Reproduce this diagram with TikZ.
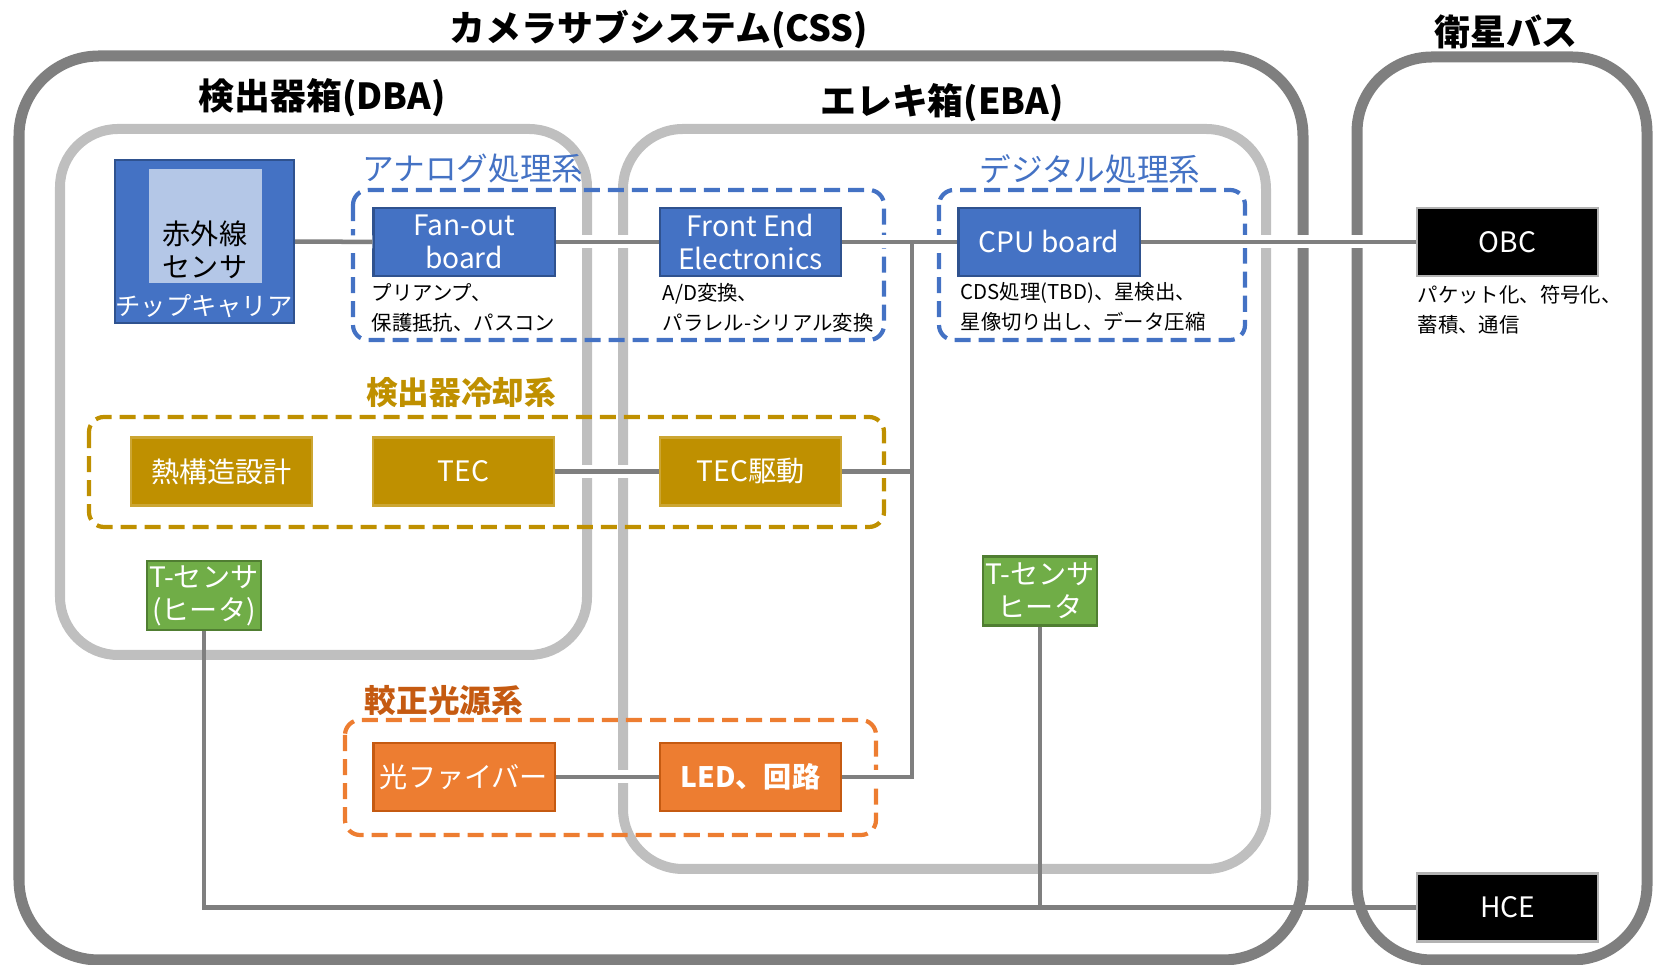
\documentclass[tikz,border=0pt]{standalone}
\usepackage{fontspec}
\setmainfont{Noto Sans CJK JP}
\definecolor{wiregray}{HTML}{7F7F7F}
\definecolor{lightframe}{HTML}{BFBFBF}
\definecolor{boxblue}{HTML}{4472C4}
\definecolor{edgeblue}{HTML}{2F528F}
\definecolor{chipblue}{HTML}{B4C7E7}
\definecolor{boxgold}{HTML}{BF9000}
\definecolor{boxorange}{HTML}{ED7D31}
\definecolor{edgeorange}{HTML}{C55A11}
\definecolor{boxgreen}{HTML}{70AD47}
\definecolor{edgegreen}{HTML}{507E32}
\begin{document}
\begin{tikzpicture}[x=0.01cm,y=-0.01cm]
        \tikzstyle{frame}=[draw=wiregray,line width=0.11cm]
        \tikzstyle{subframe}=[draw=lightframe,line width=0.1cm]
        \tikzstyle{group}=[line width=0.042cm,dash pattern=on 0.16cm off 0.08cm,rounded corners=0.15cm]
        \tikzstyle{title}=[font=\fontsize{10.2}{12}\selectfont\bfseries,inner sep=0pt]
        \tikzstyle{grouplabel}=[font=\fontsize{9}{11}\selectfont,inner sep=0pt]
        \tikzstyle{unit}=[rectangle,minimum width=1.81cm,minimum height=0.68cm,inner sep=1pt,align=center,text=white,font=\fontsize{8}{9.4}\selectfont,line width=0.6pt]
        \tikzstyle{blueunit}=[unit,fill=boxblue,draw=edgeblue]
        \tikzstyle{goldunit}=[unit,fill=boxgold,draw=boxgold!80!white]
        \tikzstyle{orangeunit}=[unit,fill=boxorange,draw=edgeorange]
        \tikzstyle{blackunit}=[unit,fill=black,draw=wiregray!60]
        \tikzstyle{tsensor}=[unit,minimum width=1.14cm,minimum height=0.69cm,fill=boxgreen,draw=edgegreen,inner sep=0pt]
        \tikzstyle{caption}=[anchor=west,align=left,font=\fontsize{5.8}{8.6}\selectfont,inner sep=0pt]
        \tikzstyle{wire}=[draw=wiregray,line width=0.045cm]
        \tikzstyle{halo}=[preaction={draw=white,line width=0.13cm}]
        \useasboundingbox (0,0) rectangle (1654,965);

        \draw[frame,rounded corners=0.8cm] (19,56) rectangle (1303,960);
        \draw[frame,rounded corners=0.75cm] (1357,57) rectangle (1647,960);
        \draw[subframe,rounded corners=0.58cm] (60,129) rectangle (587,655);
        \draw[subframe,rounded corners=0.6cm] (623,129) rectangle (1266,869);
        \node[title] (csstitle) at (659,30) {カメラサブシステム(CSS)};
        \node[title] (bustitle) at (1506,32) {衛星バス};
        \node[title] (dbatitle) at (322,98) {検出器箱(DBA)};
        \node[title] (ebatitle) at (942,103) {エレキ箱(EBA)};

        \draw[group,draw=boxblue] (353,190) rectangle (884,340);
        \draw[group,draw=boxblue] (939,190) rectangle (1245,340);
        \draw[group,draw=boxgold] (89,417) rectangle (884,527);
        \draw[group,draw=boxorange] (345,720) rectangle (876,835);
        \node[grouplabel,text=boxblue] (analoglabel) at (473,169) {アナログ処理系};
        \node[grouplabel,text=boxblue] (digitallabel) at (1090,169) {デジタル処理系};
        \node[grouplabel,text=boxgold,font=\fontsize{9}{11}\selectfont\bfseries] (coolinglabel) at (461,393) {検出器冷却系};
        \node[grouplabel,text=edgeorange,font=\fontsize{9}{11}\selectfont\bfseries] (caliblabel) at (444,701) {較正光源系};

        \node[rectangle,minimum width=1.79cm,minimum height=1.63cm,fill=boxblue,draw=edgeblue,line width=0.6pt] (cc) at (204.5,241.5) {};
        \node[rectangle,minimum width=1.13cm,minimum height=1.14cm,fill=chipblue] (ir) at (205.5,226) {};
        \node[align=center,font=\fontsize{8}{9.2}\selectfont] (irtext) at (205,250) {赤外線\\センサ};
        \node[text=white,font=\fontsize{7.2}{8}\selectfont,inner sep=0pt] (cctext) at (204,306) {チップキャリア};

        \node[blueunit] (fo) at (464,242) {Fan-out\\board};
        \node[blueunit] (fee) at (750.5,242) {Front End\\Electronics};
        \node[blueunit] (cpu) at (1049,242) {CPU board};
        \node[blackunit] (obc) at (1507.5,242) {OBC};
        \node[caption] (focap) at (371,308) {プリアンプ、\\保護抵抗、パスコン};
        \node[caption] (feecap) at (662,308) {A/D変換、\\パラレル-シリアル変換};
        \node[caption] (cpucap) at (960,307) {CDS処理(TBD)、星検出、\\星像切り出し、データ圧縮};
        \node[caption] (obccap) at (1417,310) {パケット化、符号化、\\蓄積、通信};

        \node[goldunit] (thermal) at (221.5,471.5) {熱構造設計};
        \node[goldunit] (tec) at (463.5,471.5) {TEC};
        \node[goldunit] (tecdrv) at (750.5,471.5) {TEC駆動};

        \node[tsensor] (ts1) at (204,595.5) {T-センサ\\(ヒータ)};
        \node[tsensor] (ts2) at (1040,591) {T-センサ\\ヒータ};

        \node[orangeunit] (fiber) at (464,777) {光ファイバー};
        \node[orangeunit,font=\fontsize{8}{9.4}\selectfont\bfseries] (led) at (750.5,777) {LED、回路};
        \node[blackunit] (hce) at (1507.5,907.5) {HCE};

        \coordinate (j1) at (912,242);
        \coordinate (j2) at (912,471.5);
        \coordinate (j3) at (912,777);
        \draw[wire,halo] (cc) -- (fo);
        \draw[wire,halo] (fo) -- (fee);
        \draw[wire,halo] (fee) -- (cpu);
        \draw[wire,halo] (cpu) -- (obc);
        \draw[wire,halo] (tec) -- (tecdrv);
        \draw[wire,halo] (tecdrv) -- (j2);
        \draw[wire,halo] (fiber) -- (led);
        \draw[wire,halo] (led) -- (j3);
        \draw[wire] (j1) |- (led.east);
        \draw[wire] (ts1) |- (hce);
        \draw[wire] (ts2) -- (ts2 |- hce);
\end{tikzpicture}
\end{document}
